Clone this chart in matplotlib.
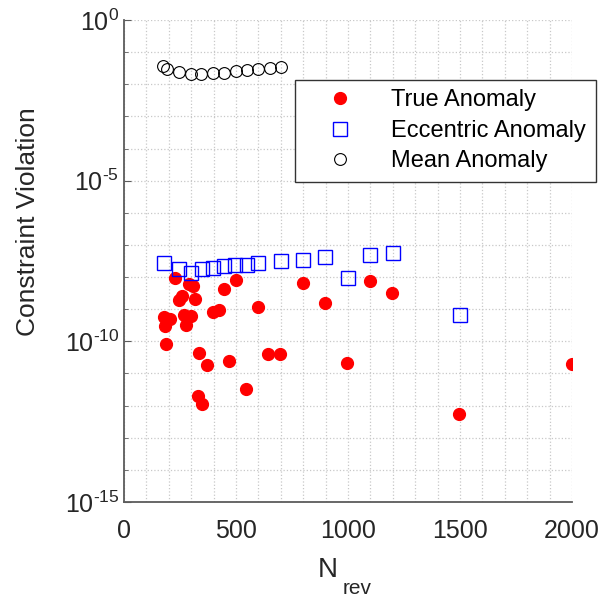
import numpy as np
import matplotlib
matplotlib.use("Agg")
import matplotlib.pyplot as plt
from matplotlib.ticker import (FixedLocator, FuncFormatter, LogLocator,
                               MultipleLocator, NullFormatter)

plt.rcParams["font.family"] = ["Liberation Sans", "DejaVu Sans"]
plt.rcParams["mathtext.fontset"] = "custom"
plt.rcParams["mathtext.rm"] = "Liberation Sans"
plt.rcParams["mathtext.it"] = "Liberation Sans:italic"

# Constraint violation vs. number of revolutions for each anomaly formulation
true_n = [228, 292, 307, 448, 499, 258, 247, 317, 597, 399, 423, 180, 205, 182,
          268, 299, 277, 188, 336, 372, 470, 643, 698, 997, 546, 329, 348, 1497,
          798, 899, 1098, 1198, 1999]
true_cv = [9.1e-9, 5.9e-9, 5.4e-9, 4.4e-9, 8.3e-9, 2.6e-9, 1.9e-9, 2.1e-9, 1.2e-9,
           7.9e-10, 9.3e-10, 5.9e-10, 4.8e-10, 3.0e-10, 6.6e-10, 6.2e-10, 3.2e-10,
           8.1e-11, 4.3e-11, 1.8e-11, 2.5e-11, 4.0e-11, 4.0e-11, 2.1e-11, 3.3e-12,
           2.0e-12, 1.15e-12, 5.6e-13, 6.6e-9, 1.6e-9, 7.8e-9, 3.2e-9, 2.0e-11]

ecc_n = [180, 247, 298, 347, 399, 447, 497, 547, 599, 700, 798, 899, 998, 1098, 1199, 1500]
ecc_cv = [2.7e-8, 1.8e-8, 1.3e-8, 1.8e-8, 1.95e-8, 2.2e-8, 2.3e-8, 2.45e-8, 2.7e-8,
          3.2e-8, 3.5e-8, 4.1e-8, 9.3e-9, 4.8e-8, 5.5e-8, 6.6e-10]

mean_n = [175, 190, 247, 297, 346, 398, 448, 500, 550, 600, 650, 700]
mean_cv = [0.038, 0.030, 0.0245, 0.0214, 0.0204, 0.0219, 0.0229, 0.0257, 0.0275,
           0.030, 0.032, 0.0355]

y_ticks = [1e-15, 1e-10, 1e-5, 1e0]


def decade_label(val, pos):
    exp = int(round(np.log10(val)))
    sign = "\u2010" if exp < 0 else ""
    return r"$\mathdefault{10^{%s%d}}$" % (sign, abs(exp))


fig = plt.figure(figsize=(6.03, 5.98), dpi=100)
ax = fig.add_axes([0.2056, 0.1605, 0.7430, 0.8061])

ax.semilogy(true_n, true_cv, "o", color="red", markersize=8.5, label="True Anomaly")
ax.semilogy(ecc_n, ecc_cv, "s", color="blue", markerfacecolor="none",
            markersize=10.5, markeredgewidth=1.0, label="Eccentric Anomaly")
ax.semilogy(mean_n, mean_cv, "o", color="black", markerfacecolor="none",
            markersize=8.5, markeredgewidth=0.8, label="Mean Anomaly")

ax.set_xlim(0, 2000)
ax.set_ylim(y_ticks[0], y_ticks[-1])
ax.xaxis.set_major_locator(MultipleLocator(500))
ax.xaxis.set_minor_locator(MultipleLocator(100))
ax.yaxis.set_major_locator(FixedLocator(y_ticks))
ax.yaxis.set_major_formatter(FuncFormatter(decade_label))
ax.yaxis.set_minor_locator(LogLocator(base=10, subs=(1.0,), numticks=30))
ax.yaxis.set_minor_formatter(NullFormatter())

ax.grid(True, which="both", linestyle=":", color="#c8c8c8", linewidth=0.9)
ax.set_axisbelow(True)

for side in ["top", "right"]:
    ax.spines[side].set_visible(False)
for side in ["left", "bottom"]:
    ax.spines[side].set_color("#5c5c5c")
    ax.spines[side].set_linewidth(1.3)

ax.tick_params(which="both", direction="in", colors="#5c5c5c", labelcolor="#262626",
               labelsize=18)
ax.tick_params(which="major", length=5)
ax.tick_params(which="minor", length=3)
ax.tick_params(axis="x", which="both", length=0, pad=12)

# x label: N with a dropped "rev" subscript
ax.text(0.478, -0.155, "N", transform=ax.transAxes, fontsize=20,
        color="#262626", ha="right", va="baseline")
ax.text(0.489, -0.190, "rev", transform=ax.transAxes, fontsize=15,
        color="#262626", ha="left", va="baseline")

ax.set_ylabel("Constraint Violation", fontsize=19, color="#262626")
ax.yaxis.set_label_coords(-0.187, 0.581)

leg = ax.legend(loc="upper left", bbox_to_anchor=(0.382, 0.8755), fontsize=17,
                frameon=True, fancybox=False, framealpha=1, edgecolor="#333333",
                borderpad=0.4, handlelength=3.0, handletextpad=0.68,
                labelspacing=0.36, borderaxespad=0)
leg.get_frame().set_linewidth(1.0)

fig.savefig("out.png", dpi=100)
